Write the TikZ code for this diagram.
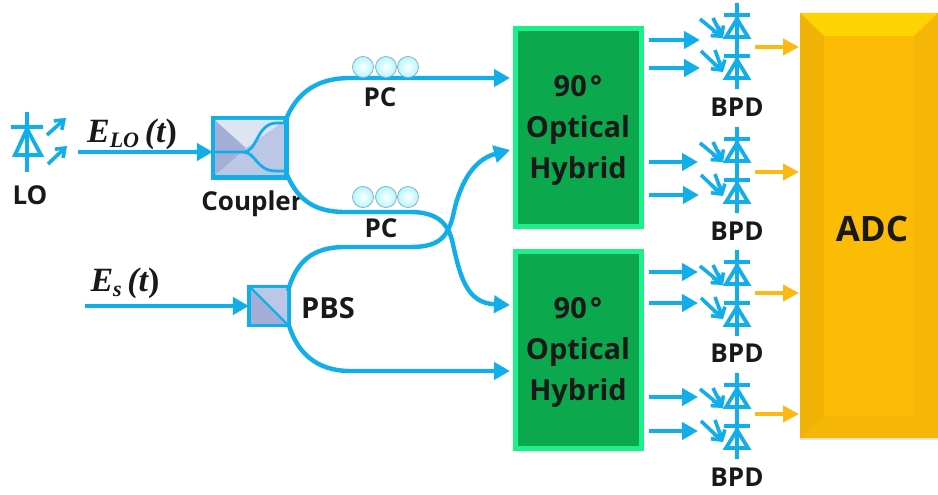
\documentclass[tikz,border=0pt]{standalone}
\usepackage{fontspec}
\setmainfont{Open Sans}
\newfontfamily\mathish{Liberation Serif}
\usetikzlibrary{arrows.meta,calc,shadows}
\definecolor{fib}{HTML}{12AEEA}
\definecolor{gold}{HTML}{FDB813}
\definecolor{adcf}{HTML}{FCBC05}
\definecolor{hybf}{HTML}{0CA84E}
\definecolor{hybb}{HTML}{1DF08A}
\definecolor{optdark}{HTML}{A3AFD6}
\definecolor{optmid}{HTML}{BCC7E6}
\definecolor{optlight}{HTML}{DDE4F4}
\tikzset{
 x=1pt,y=-1pt,
 fiber/.style={draw=fib,line width=4.4pt},
 fiberarrow/.style={fiber,-{Triangle[length=16pt,width=17pt]}},
 orangearrow/.style={draw=gold,line width=4.6pt,-{Triangle[length=16pt,width=16pt]}},
 hybrid/.style={draw=hybb,fill=hybf,line width=5pt,minimum width=126pt,minimum height=197pt,align=center,inner sep=0pt,font=\fontsize{29}{41}\selectfont\bfseries,text=black!90,drop shadow={opacity=.25,shadow xshift=2pt,shadow yshift=-2pt}},
 lab/.style={font=\fontsize{26}{28}\selectfont\bfseries,text=black!90,inner sep=0pt},
 eqn/.style={font=\fontsize{34}{35}\selectfont\mathish\bfseries\itshape,text=black!90,inner sep=0pt},
 sym/.style={draw=fib,line width=3.8pt},
 symarrow/.style={draw=fib,line width=3.6pt,-{Straight Barb[length=8pt,width=12pt]}},
 pcball/.style={circle,minimum size=21pt,inner sep=0pt,draw=fib!45!gray!70,line width=.8pt,shading=radial,inner color=white,outer color=fib!35!cyan!30},
 optbox/.style={draw=fib,line width=3.2pt,fill=optmid,inner sep=0pt,drop shadow={opacity=.3,shadow xshift=2pt,shadow yshift=-2pt}},
}
\newcommand{\diode}[2]{%
 \draw[sym] (#1-13,#2) -- (#1+13,#2);
 \draw[sym,line join=miter] (#1,#2+4) -- (#1-11,#2+22) -- (#1+11,#2+22) -- cycle;}
\newcommand{\bpd}[3]{%
 \node[inner sep=0pt,minimum size=0pt] (#3top) at (#1,#2) {};
 \node[inner sep=0pt,minimum size=0pt] (#3bot) at (#1,#2+86) {};
 \draw[sym] (#3top) -- (#3bot);
 \diode{#1}{#2+12}
 \diode{#1}{#2+53}
 \draw[symarrow] (#1-37,#2+16) -- (#1-14,#2+35);
 \draw[symarrow] (#1-24,#2+15) -- (#1-14,#2+35);
 \draw[symarrow] (#1-36,#2+48) -- (#1-14,#2+69);
 \draw[symarrow] (#1-22,#2+47) -- (#1-14,#2+69);}
\begin{document}
\begin{tikzpicture}
\useasboundingbox (0,0) rectangle (938,495);
\fill[white] (0,0) rectangle (938,495);

% ADC
\node[fill=adcf,minimum width=138pt,minimum height=425pt,inner sep=0pt,drop shadow={opacity=.2,shadow xshift=0pt,shadow yshift=-2pt}] (adc) at (869,225.5) {};
\fill[adcf!65!yellow] (800,13) -- (938,13) -- (914,36) -- (824,36) -- cycle;
\fill[adcf!95!black] (800,13) -- (824,36) -- (824,416) -- (800,438) -- cycle;
\fill[adcf!97!black] (800,438) -- (824,416) -- (914,416) -- (938,438) -- cycle;
\fill[adcf!97!black] (938,13) -- (914,36) -- (914,416) -- (938,438) -- cycle;
\node[font=\fontsize{35}{36}\selectfont\bfseries,text=black!90,inner sep=0pt] (adctext) at (872,229) {ADC};

% Hybrids
\node[hybrid] (hyb1) at (578,127.5) {};
\node[hybrid] (hyb2) at (578,349.5) {};
\node[font=\fontsize{29}{41}\selectfont\bfseries,text=black!90,align=center,inner sep=0pt] (hyb1t) at (578,130.5) {90\hspace{3pt}°\\Optical\\Hybrid};
\node[font=\fontsize{29}{41}\selectfont\bfseries,text=black!90,align=center,inner sep=0pt] (hyb2t) at (578,352.5) {90\hspace{3pt}°\\Optical\\Hybrid};

% LO
\node[inner sep=0pt,minimum size=0pt] (lotop) at (27,112) {};
\node[inner sep=0pt,minimum size=0pt] (lobot) at (27,172) {};
\draw[sym] (lotop) -- (lobot);
\draw[sym] (11,127) -- (43,127);
\draw[sym] (27,129) -- (15,155) -- (41,155) -- cycle;
\draw[symarrow] (47,135) -- (66,118);
\draw[symarrow] (48,164) -- (67,146);
\node[lab] (lolab) at (30,195) {LO};

% Coupler
\node[optbox,minimum width=71pt,minimum height=57pt] (coupler) at (250,148) {};
\fill[optdark] (215,120) -- (246,148) -- (215,175) -- cycle;
\fill[optlight] (215,120) -- (246,148) -- (285,120) -- cycle;
\draw[sym,line width=2.8pt] (214,152) -- (243,152) .. controls (258,152) and (256,124) .. (276,123) -- (286,123);
\draw[sym,line width=2.8pt] (243,152) .. controls (256,152) and (256,171) .. (276,171) -- (286,171);
\draw[draw=fib,line width=3.2pt] (coupler.south west) rectangle (coupler.north east);
\node[lab] (couplerlab) at (252,204) {Coupler};

% PBS
\node[optbox,minimum width=37pt,minimum height=36pt] (pbs) at (269,306) {};
\fill[optdark] (251,288) -- (287,324) -- (251,324) -- cycle;
\fill[optmid] (251,288) -- (287,288) -- (287,324) -- cycle;
\draw[draw=fib,line width=2.4pt] (251,288) -- (287,324);
\draw[draw=fib,line width=3.2pt] (pbs.south west) rectangle (pbs.north east);
\node[lab,font=\fontsize{29}{30}\selectfont\bfseries] (pbslab) at (328,308) {PBS};

% Input arrows
\coordinate (loout) at (78,152);
\coordinate (esin) at (85,306);
\draw[fiberarrow] (loout) -- (loout -| coupler.west);
\draw[fiberarrow] (esin) -- (pbs.west);
\node[eqn] (elo) at (132,134) {E\raisebox{-5pt}{\fontsize{22}{22}\selectfont LO}\,\mathish\bfseries(\itshape t\upshape)};
\node[eqn] (es) at (125,283) {E\raisebox{-5pt}{\fontsize{22}{22}\selectfont s}\,\mathish\bfseries(\itshape t\upshape)};

% Fibres
\coordinate (c1) at (285,122);
\coordinate (c2) at (285,170);
\coordinate (p1) at (288,291);
\coordinate (p2) at (288,322);
\coordinate (h1a) at (510,78);
\coordinate (h1b) at (510,150);
\coordinate (h2a) at (510,305);
\coordinate (h2b) at (510,371);
\draw[fiberarrow] (c1) .. controls (296,92) and (318,78) .. (350,78) -- (h1a);
\draw[fiberarrow] (p1) .. controls (296,262) and (312,247) .. (345,247) -- (410,247) .. controls (436,247) and (447,240) .. (453,216) .. controls (459,186) and (472,160) .. (h1b);
\draw[fiberarrow] (c2) .. controls (296,198) and (312,212) .. (345,212) -- (410,212) .. controls (436,212) and (447,222) .. (452,240) .. controls (460,276) and (466,303) .. (h2a);
\draw[fiberarrow] (p2) .. controls (296,352) and (316,371) .. (350,371) -- (h2b);

% PCs
\foreach \n/\x in {a/363,b/386,c/408}{
 \node[pcball] (pcu\n) at (\x,67) {};
 \node[pcball] (pcl\n) at (\x,197) {};
}
\node[lab] (pc1) at (380,97) {PC};
\node[lab] (pc2) at (381,228) {PC};

% BPDs
\bpd{737}{3}{ba}
\bpd{737}{127}{bb}
\bpd{737}{250}{bc}
\bpd{737}{373}{bd}
\node[lab] (la) at (737,107) {BPD};
\node[lab] (lb) at (737,231) {BPD};
\node[lab] (lc) at (737,353) {BPD};
\node[lab] (ld) at (737,477) {BPD};

% Arrows to BPDs
\foreach \i/\y/\e in {1/40/700,2/68/700,3/162/698,4/195/699,5/272/698,6/303/698,7/397/698,8/431/698}{
 \coordinate (bs\i) at (649,\y);
 \coordinate (be\i) at (\e,\y);
 \draw[fiberarrow] (bs\i) -- (be\i);
}
% Outputs
\foreach \i/\y in {1/47,2/172,3/293,4/414}{
 \coordinate (os\i) at (755,\y);
 \coordinate (oe\i) at (799,\y);
 \draw[orangearrow] (os\i) -- (oe\i);
}
\end{tikzpicture}
\end{document}
